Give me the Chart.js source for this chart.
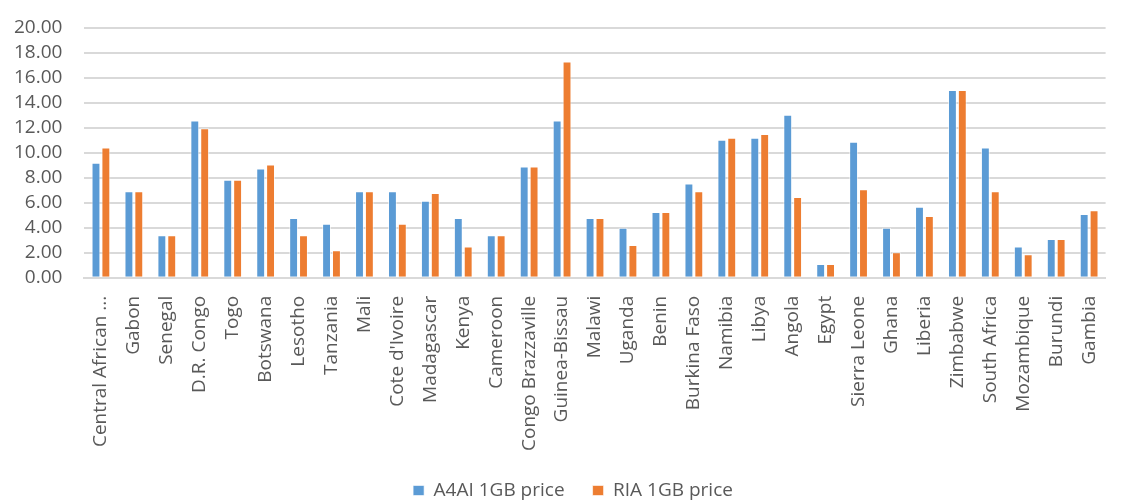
<!DOCTYPE html>
<html>
<head>
<meta charset="utf-8">
<script src="https://cdn.jsdelivr.net/npm/chart.js@4"></script>
<style>
    body { margin: 0; background: #fff; }
    #wrap { width: 1122px; height: 500px; position: relative; }
</style>
</head>
<body>
<div id="wrap"><canvas id="chart"></canvas></div>
<script>
const countries = ['Central African ...', 'Gabon', 'Senegal', 'D.R. Congo', 'Togo', 'Botswana', 'Lesotho',
    'Tanzania', 'Mali', "Cote d'Ivoire", 'Madagascar', 'Kenya', 'Cameroon', 'Congo Brazzaville',
    'Guinea-Bissau', 'Malawi', 'Uganda', 'Benin', 'Burkina Faso', 'Namibia', 'Libya', 'Angola', 'Egypt',
    'Sierra Leone', 'Ghana', 'Liberia', 'Zimbabwe', 'South Africa', 'Mozambique', 'Burundi', 'Gambia'];

const a4aiPrice = [9.21, 6.93, 3.41, 12.59, 7.84, 8.75, 4.78, 4.32, 6.93, 6.93, 6.17, 4.78, 3.41, 8.91,
    12.59, 4.78, 4.0, 5.26, 7.54, 11.06, 11.22, 13.05, 1.1, 10.9, 4.0, 5.69, 15.03, 10.44, 2.5, 3.11, 5.1];

const riaPrice = [10.44, 6.93, 3.41, 11.97, 7.84, 9.07, 3.41, 2.2, 6.93, 4.32, 6.79, 2.5, 3.41, 8.91,
    17.32, 4.78, 2.63, 5.26, 6.93, 11.22, 11.52, 6.47, 1.1, 7.09, 2.04, 4.94, 15.03, 6.93, 1.88, 3.11, 5.4];

const yTicks = { min: 0, max: 20, step: 2 };

const textColor = '#595959';
const gridColor = '#d9d9d9';

// legend sits lower (and a bit right) of where chart.js would put it, so move it after layout
const legendTop = 453;
const legendShiftX = 18;
const moveLegend = {
    id: 'moveLegend',
    afterLayout(chart) {
        const lg = chart.legend;
        const h = lg.bottom - lg.top;
        lg.top = legendTop;
        lg.bottom = legendTop + h;
        lg.left += legendShiftX;
        lg.right += legendShiftX;
    }
};

new Chart(document.getElementById('chart').getContext('2d'), {
    type: 'bar',
    data: {
        labels: countries,
        datasets: [{
            label: 'A4AI 1GB price',
            data: a4aiPrice,
            backgroundColor: '#5b9bd5',
            borderColor: 'rgba(255,255,255,0.6)',
            borderWidth: 1,
            barPercentage: 0.9,
            categoryPercentage: 0.6
        }, {
            label: 'RIA 1GB price',
            data: riaPrice,
            backgroundColor: '#ed7d31',
            borderColor: 'rgba(255,255,255,0.6)',
            borderWidth: 1,
            barPercentage: 0.9,
            categoryPercentage: 0.6
        }]
    },
    options: {
        responsive: true,
        maintainAspectRatio: false,
        animation: false,
        layout: { padding: { left: -8, right: 4, top: 28, bottom: -18 } },
        plugins: {
            tooltip: { enabled: false },
            legend: {
                position: 'bottom',
                labels: {
                    color: textColor,
                    font: { family: 'Open Sans', size: 19 },
                    boxWidth: 11,
                    boxHeight: 10,
                    padding: 28
                }
            }
        },
        scales: {
            x: {
                grid: { display: false },
                border: { display: true, color: gridColor, width: 2 },
                ticks: {
                    color: textColor,
                    font: { family: 'Open Sans', size: 19 },
                    minRotation: 90,
                    maxRotation: 90,
                    autoSkip: false,
                    padding: 10
                }
            },
            y: {
                min: yTicks.min,
                max: yTicks.max,
                grid: { color: gridColor, lineWidth: 2, drawTicks: false },
                border: { display: false },
                // tick padding also gets added above the top label, drop that
                afterFit: function (scale) {
                    scale.paddingTop = 0;
                },
                ticks: {
                    stepSize: yTicks.step,
                    autoSkip: false,
                    color: textColor,
                    font: { family: 'Open Sans', size: 19 },
                    padding: 22,
                    callback: function (value) {
                        return value.toFixed(2);
                    }
                }
            }
        }
    },
    plugins: [moveLegend]
});
</script>
</body>
</html>
